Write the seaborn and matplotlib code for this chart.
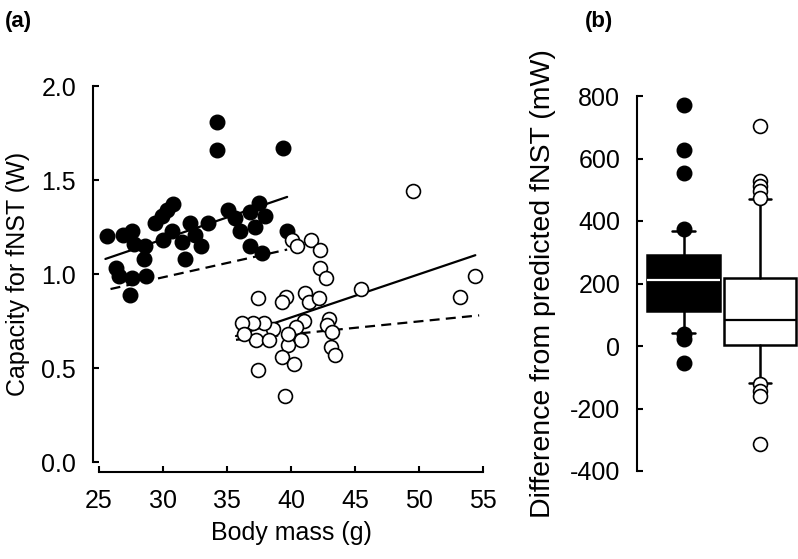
import numpy as np
import pandas as pd
import matplotlib
matplotlib.use("Agg")
import matplotlib.pyplot as plt
import seaborn as sns

# Panel (a): capacity for fNST against body mass
filled_mass = [34.2, 34.2, 39.4, 25.6, 26.9, 27.6, 27.7, 28.6, 28.5, 26.3, 26.6, 27.6,
               28.7, 27.4, 29.4, 29.9, 30.3, 30.8, 30.0, 30.7, 31.5, 31.7, 32.1, 32.5,
               33.0, 33.5, 35.1, 35.6, 36.0, 37.2, 37.5, 36.8, 38.0, 36.8, 37.7, 39.7]
filled_cap = [1.81, 1.66, 1.67, 1.20, 1.21, 1.23, 1.16, 1.15, 1.08, 1.03, 0.99, 0.98,
              0.99, 0.89, 1.27, 1.31, 1.34, 1.37, 1.18, 1.23, 1.17, 1.08, 1.27, 1.21,
              1.15, 1.27, 1.34, 1.30, 1.23, 1.25, 1.38, 1.33, 1.31, 1.15, 1.11, 1.23]

open_mass = [49.5, 40.1, 40.5, 41.6, 42.3, 42.3, 42.7, 45.5, 54.4, 53.2, 37.4, 39.6,
             39.3, 41.1, 41.4, 42.2, 41.0, 40.4, 43.0, 42.8, 43.2, 43.1, 43.4, 40.8,
             39.8, 39.3, 40.2, 37.4, 39.5, 38.6, 37.9, 37.0, 37.3, 38.3, 39.8, 36.2, 36.3]
open_cap = [1.44, 1.18, 1.15, 1.18, 1.13, 1.03, 0.98, 0.92, 0.99, 0.88, 0.87, 0.88,
            0.85, 0.90, 0.85, 0.87, 0.75, 0.72, 0.76, 0.73, 0.69, 0.61, 0.57, 0.65,
            0.62, 0.56, 0.52, 0.49, 0.35, 0.71, 0.74, 0.74, 0.65, 0.65, 0.68, 0.74, 0.68]

# fitted (solid) and predicted (dashed) lines, end points
filled_fit_x = [25.5, 39.7]
filled_fit_y = [1.08, 1.41]
filled_pred_x = [25.9, 39.7]
filled_pred_y = [0.92, 1.13]
open_fit_x = [35.7, 54.4]
open_fit_y = [0.67, 1.10]
open_pred_x = [35.7, 54.7]
open_pred_y = [0.65, 0.78]

# Panel (b): difference from predicted fNST (mW), box summaries
box_q1 = [112, 3]
box_med = [210, 82]
box_q3 = [290, 219]
box_lo = [43, -117]
box_hi = [368, 469]
filled_out = [770, 628, 555, 373, 40, 21, -54]
open_out = [704, 528, 511, 495, 475, -120, -144, -161, -312]

sns.set_style("ticks")
plt.rcParams["font.family"] = ["Liberation Sans", "DejaVu Sans"]
plt.rcParams["axes.unicode_minus"] = False
for k in ["text.color", "axes.labelcolor", "xtick.color", "ytick.color", "axes.edgecolor"]:
    plt.rcParams[k] = "black"

fig = plt.figure(figsize=(7.98, 5.59), dpi=100)
ax1 = fig.add_axes([99 / 798, 97 / 559, 384 / 798, 376 / 559])
ax2 = fig.add_axes([637 / 798, 88 / 559, 161 / 798, 375 / 559])

fs = 18
lw_ax = 1.5

# ---- panel (a)
sns.lineplot(x=filled_fit_x, y=filled_fit_y, color="black", lw=1.6, ax=ax1)
sns.lineplot(x=filled_pred_x, y=filled_pred_y, color="black", lw=1.6, ax=ax1)
sns.lineplot(x=open_fit_x, y=open_fit_y, color="black", lw=1.6, ax=ax1)
sns.lineplot(x=open_pred_x, y=open_pred_y, color="black", lw=1.6, ax=ax1)
ax1.lines[1].set_dashes((4.5, 2.8))
ax1.lines[3].set_dashes((4.5, 2.8))

sns.scatterplot(x=filled_mass, y=filled_cap, color="black", edgecolor="black",
                s=110, linewidth=1, ax=ax1, clip_on=False, zorder=3)
sns.scatterplot(x=open_mass, y=open_cap, color="white", edgecolor="black",
                s=100, linewidth=1.2, ax=ax1, clip_on=False, zorder=3)

ax1.set_xlim(25, 55)
ax1.set_ylim(0, 2)
ax1.set_xticks(np.arange(25, 56, 5))
ax1.set_yticks(np.arange(0, 2.01, 0.5))
ax1.set_yticklabels([f"{v:.1f}" for v in np.arange(0, 2.01, 0.5)])
ax1.spines["left"].set_position(("outward", 4.5))
ax1.spines["bottom"].set_position(("outward", 7.5))
for s in ["top", "right"]:
    ax1.spines[s].set_visible(False)
for s in ["left", "bottom"]:
    ax1.spines[s].set_linewidth(lw_ax)
ax1.tick_params(direction="in", length=4, width=lw_ax, labelsize=fs)
ax1.tick_params(axis="y", pad=12)
ax1.tick_params(axis="x", pad=12)
ax1.set_xlabel("Body mass (g)", fontsize=fs, labelpad=6)
ax1.set_ylabel("Capacity for fNST (W)", fontsize=fs, labelpad=8)

# ---- panel (b)
stats = []
for i in range(2):
    stats.append(dict(q1=box_q1[i], med=box_med[i], q3=box_q3[i],
                      whislo=box_lo[i], whishi=box_hi[i], fliers=[]))
bp = ax2.bxp(stats, positions=[0, 1], widths=0.95, showfliers=False,
             patch_artist=True, capwidths=0.3,
             whiskerprops=dict(color="black", lw=1.8),
             capprops=dict(color="black", lw=1.8),
             boxprops=dict(edgecolor="black", lw=1.8),
             medianprops=dict(lw=1.6))
bp["boxes"][0].set_facecolor("black")
bp["boxes"][1].set_facecolor("white")
bp["medians"][0].set_color("white")
bp["medians"][1].set_color("black")

sns.scatterplot(x=[0] * len(filled_out), y=filled_out, color="black", edgecolor="black",
                s=110, linewidth=1, ax=ax2, clip_on=False, zorder=3)
sns.scatterplot(x=[1] * len(open_out), y=open_out, color="white", edgecolor="black",
                s=100, linewidth=1.2, ax=ax2, clip_on=False, zorder=3)

ax2.set_xlim(-0.608, 1.497)
ax2.set_ylim(-400, 800)
ax2.set_yticks(np.arange(-400, 801, 200))
ax2.set_xticks([])
for s in ["top", "right", "bottom"]:
    ax2.spines[s].set_visible(False)
ax2.spines["left"].set_linewidth(lw_ax)
ax2.tick_params(axis="y", direction="in", length=4, width=lw_ax, labelsize=fs, pad=12)
ax2.set_ylabel("Difference from predicted fNST (mW)", fontsize=20.5, labelpad=10)

fig.text(5 / 798, 1 - 27 / 559, "(a)", fontsize=16, fontweight="bold")
fig.text(585 / 798, 1 - 27 / 559, "(b)", fontsize=16, fontweight="bold")

fig.savefig("out.png", dpi=100)
